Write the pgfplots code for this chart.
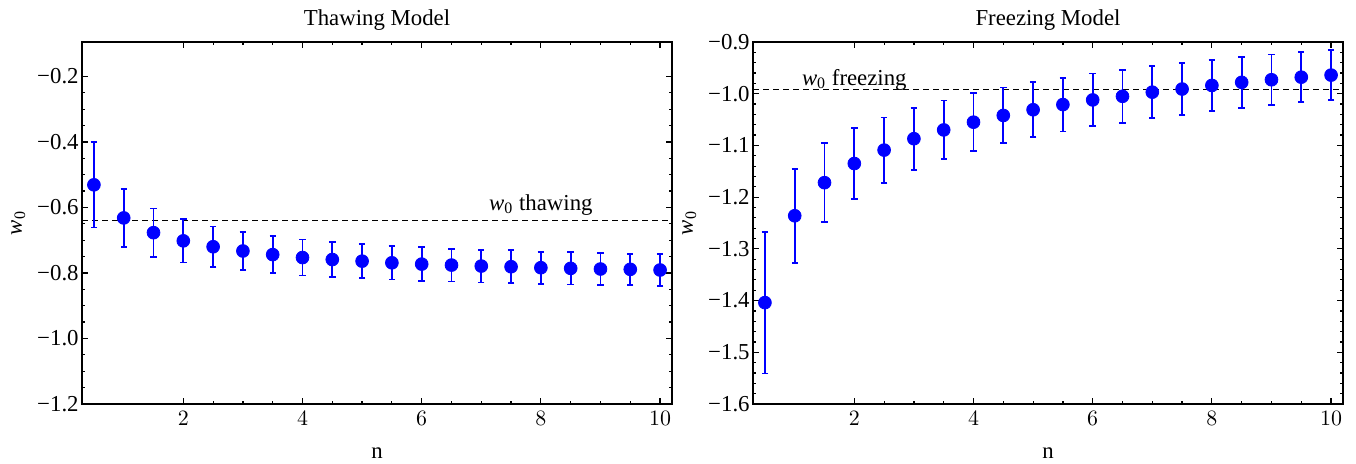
\documentclass[border=0pt]{standalone}
\usepackage{fontspec}
\setmainfont{Liberation Serif}
\usepackage{pgfplots}
\pgfplotsset{compat=1.18}
\usepackage{pgfplotstable}

\definecolor{mblue}{rgb}{0,0,1}

\pgfplotstableread{
x y ey
0.5 -0.531 0.130
1 -0.632 0.088
1.5 -0.677 0.074
2 -0.702 0.066
2.5 -0.720 0.062
3 -0.733 0.059
3.5 -0.744 0.056
4 -0.753 0.055
4.5 -0.759 0.054
5 -0.764 0.052
5.5 -0.769 0.051
6 -0.773 0.051
6.5 -0.776 0.050
7 -0.779 0.050
7.5 -0.781 0.050
8 -0.784 0.049
8.5 -0.786 0.049
9 -0.788 0.049
9.5 -0.789 0.048
10 -0.791 0.048
}\thawing

\pgfplotstableread{
x y ey
0.5 -1.404 0.137
1 -1.236 0.091
1.5 -1.172 0.076
2 -1.135 0.068
2.5 -1.109 0.063
3 -1.087 0.060
3.5 -1.070 0.057
4 -1.055 0.056
4.5 -1.042 0.054
5 -1.031 0.053
5.5 -1.021 0.052
6 -1.012 0.051
6.5 -1.005 0.051
7 -0.997 0.050
7.5 -0.991 0.050
8 -0.984 0.049
8.5 -0.978 0.049
9 -0.973 0.049
9.5 -0.968 0.048
10 -0.964 0.048
}\freezing

\pgfplotsset{
  mma/.style={
    scale only axis,
    width=295pt, height=181pt,
    xmin=0.3, xmax=10.2,
    axis line style={line width=0.8pt},
    tick align=inside,
    major tick length=3pt, minor tick length=1.6pt,
    tick style={black, line width=0.6pt},
    xtick={2,4,6,8,10},
    minor x tick num=3,
    ticklabel style={font=\fontsize{11.4}{13}\selectfont},
    yticklabel style={inner sep=1.5pt},
    label style={font=\fontsize{11.4}{13}\selectfont},
    every axis title shift=0pt,
    title style={font=\fontsize{11.4}{13}\selectfont,
      at={(axis description cs:0.5,1.061)}, anchor=center},
    xlabel={n},
    xlabel style={at={(axis description cs:0.5,-0.135)}, anchor=center},
    ylabel={\textit{w}\textsubscript{0}},
    ylabel style={at={(axis description cs:-0.108,0.5)}, anchor=center},
    clip=false,
  },
  pts/.style={
    only marks, mark=*, color=mblue,
    mark options={scale=1.6, fill=mblue, draw=mblue},
    error bars/.cd, y dir=both, y explicit,
    error bar style={line width=0.9pt, mblue},
    error mark options={rotate=90, mark size=1.6pt, line width=0.9pt, mblue},
  },
}

\begin{document}
\begin{tikzpicture}
\useasboundingbox (0,0) rectangle (678pt,232pt);

\begin{axis}[mma, at={(41pt,30pt)}, anchor=south west,
  title={Thawing Model},
  ymin=-1.2, ymax=-0.095,
  ytick={-1.2,-1.0,-0.8,-0.6,-0.4,-0.2},
  yticklabels={−1.2,−1.0,−0.8,−0.6,−0.4,−0.2},
  minor y tick num=3,
]
\addplot[black, dashed, line width=0.5pt, dash pattern=on 3pt off 2pt] coordinates {(0.3,-0.64) (10.2,-0.64)};
\addplot[pts] table[x=x, y=y, y error=ey] {\thawing};
\node[anchor=base, font=\fontsize{11.4}{13}\selectfont] at (axis cs:8.0,-0.61) {\textit{w}\textsubscript{0} thawing};
\end{axis}

\begin{axis}[mma, at={(376.5pt,30pt)}, anchor=south west,
  title={Freezing Model},
  ymin=-1.6, ymax=-0.9,
  ytick={-1.6,-1.5,-1.4,-1.3,-1.2,-1.1,-1.0,-0.9},
  yticklabels={−1.6,−1.5,−1.4,−1.3,−1.2,−1.1,−1.0,−0.9},
  minor y tick num=4,
]
\addplot[black, dashed, line width=0.5pt, dash pattern=on 3pt off 2pt] coordinates {(0.3,-0.992) (10.2,-0.992)};
\addplot[pts] table[x=x, y=y, y error=ey] {\freezing};
\node[anchor=base, font=\fontsize{11.4}{13}\selectfont] at (axis cs:2.0,-0.984) {\textit{w}\textsubscript{0} freezing};
\end{axis}
\end{tikzpicture}
\end{document}
